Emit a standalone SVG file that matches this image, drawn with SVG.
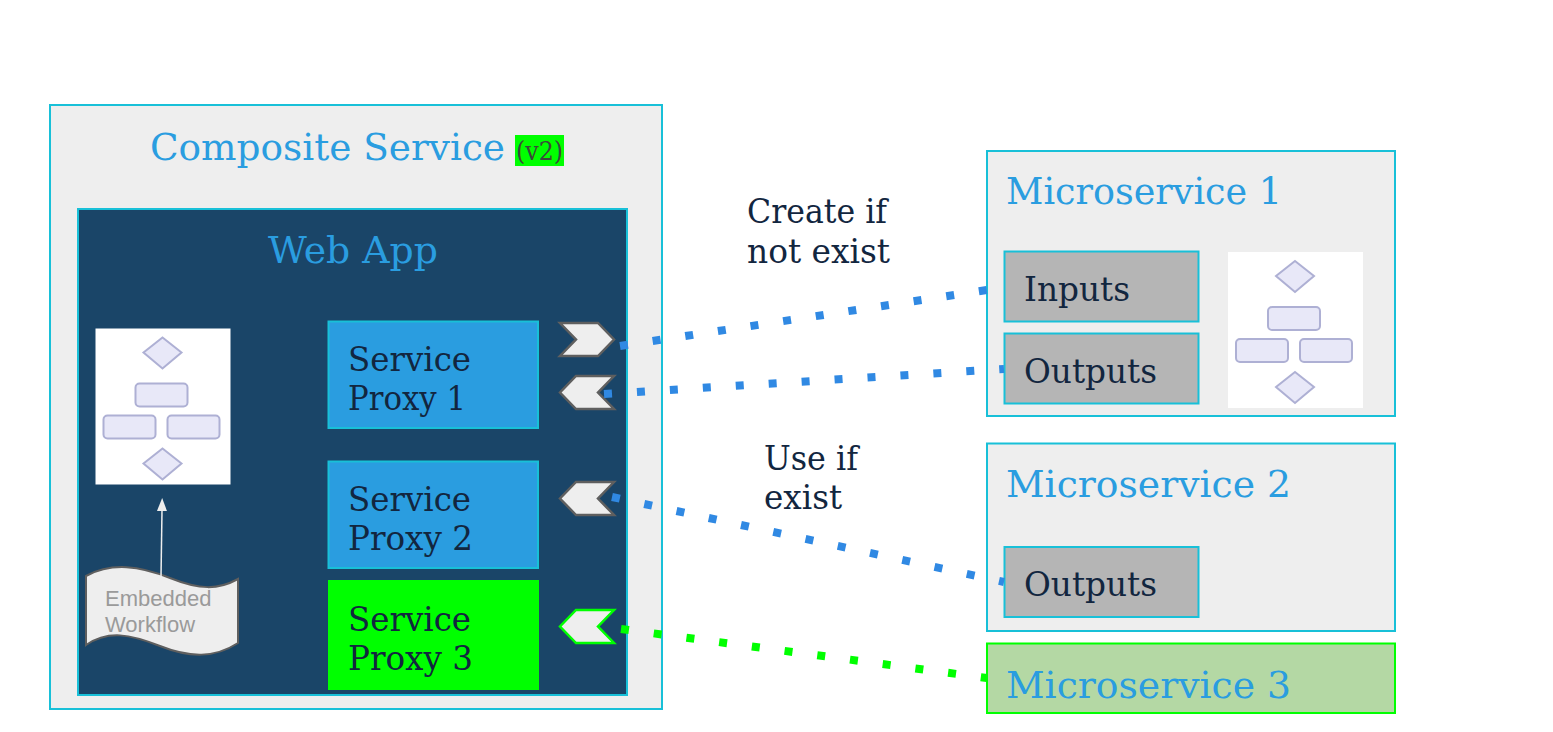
<svg xmlns="http://www.w3.org/2000/svg" width="1553" height="732" viewBox="0 0 1553 732">
<style>
.box{stroke:#18c0d8;stroke-width:2}
.grey{fill:#eeeeee}
.t{font-family:"DejaVu Serif","Liberation Serif",serif;font-weight:400}
.title{fill:#2a9de0;font-size:38px}
.dark{fill:#12263f;font-size:34px}
.tag{fill:#eeeeee;stroke:#5f5f5f;stroke-width:2.500}
.wf{fill:#e8e8f8;stroke:#aeb0d4;stroke-width:2}
.blue{fill:none;stroke:#3089e3;stroke-width:8;stroke-dasharray:8 25}
.green{fill:none;stroke:#00ff00;stroke-width:8;stroke-dasharray:8 25}
</style>
<defs>
<g id="flow">
<rect x="0" y="0" width="135" height="156" fill="#fff"/>
<path class="wf" d="M67 9L86 24L67 40L48 24Z"/>
<rect class="wf" x="40" y="55" width="52" height="23" rx="4"/>
<rect class="wf" x="8" y="87" width="52" height="23" rx="4"/>
<rect class="wf" x="72" y="87" width="52" height="23" rx="4"/>
<path class="wf" d="M67 120L86 135L67 151L48 135Z"/>
</g>
<marker id="arr" markerWidth="13" markerHeight="10" refX="1" refY="5" orient="auto" markerUnits="userSpaceOnUse" viewBox="0 0 13 10"><path d="M0 0L13 5L0 10Z" fill="#eeeeee"/></marker>
</defs>
<rect width="1553" height="732" fill="#fff"/>
<g id="composite-service">
<rect class="box grey" x="50" y="105" width="612" height="604"/>
<text class="t title" x="150" y="160" textLength="355" lengthAdjust="spacingAndGlyphs">Composite Service</text>
<rect x="515" y="135" width="49" height="31" fill="#00ff00"/>
<text class="t" x="516" y="160" font-size="26" fill="#3a4a3a" textLength="47" lengthAdjust="spacingAndGlyphs">(v2)</text>
</g>
<g id="web-app">
<rect class="box" x="78" y="209" width="549" height="486" fill="#1a4568"/>
<text class="t title" x="268" y="263" textLength="170" lengthAdjust="spacingAndGlyphs">Web App</text>
</g>
<g id="embedded-diagram"><use href="#flow" x="95.500" y="328.500"/></g>
<g id="embedded-workflow">
<path d="M86 576C112 562 140 566 170 578C200 590 218 590 238 579V643C215 658 190 658 160 646C130 634 108 630 86 645Z" fill="#eeeeee" stroke="#5f5f5f" stroke-width="2"/>
<text x="105" y="606" font-family="'Liberation Sans',Arial,sans-serif" font-size="22" fill="#9a9a9a">Embedded</text>
<text x="105" y="632" font-family="'Liberation Sans',Arial,sans-serif" font-size="22" fill="#9a9a9a">Workflow</text>
</g>
<g id="service-proxy-1">
<rect class="box" x="328.500" y="321.500" width="209.500" height="106.500" fill="#2a9de0"/>
<text class="t dark" x="348" y="371" textLength="123" lengthAdjust="spacingAndGlyphs">Service</text>
<text class="t dark" x="348" y="410" textLength="118" lengthAdjust="spacingAndGlyphs">Proxy 1</text>
</g>
<g id="service-proxy-2">
<rect class="box" x="328.500" y="461.500" width="209.500" height="106.500" fill="#2a9de0"/>
<text class="t dark" x="348" y="511" textLength="123" lengthAdjust="spacingAndGlyphs">Service</text>
<text class="t dark" x="348" y="550" textLength="125" lengthAdjust="spacingAndGlyphs">Proxy 2</text>
</g>
<g id="service-proxy-3">
<rect x="328" y="580" width="211" height="110" fill="#00ff00"/>
<text class="t dark" x="348" y="631" textLength="123" lengthAdjust="spacingAndGlyphs">Service</text>
<text class="t dark" x="348" y="670" textLength="125" lengthAdjust="spacingAndGlyphs">Proxy 3</text>
</g>
<g id="port-out-1"><path class="tag" d="M560 323H598L614 339.500L598 356H560L576 339.500Z"/></g>
<g id="port-in-1"><path class="tag" d="M614 376H576L560 392.500L576 409H614L598 392.500Z"/></g>
<g id="port-in-2"><path class="tag" d="M614 482H576L560 498.500L576 515H614L598 498.500Z"/></g>
<g id="port-in-3"><path class="tag" style="stroke:#00ff00" d="M614 610H576L560 626.500L576 643H614L598 626.500Z"/></g>
<g id="microservice-1">
<rect class="box grey" x="987" y="151" width="408" height="265"/>
<text class="t title" x="1006" y="204" textLength="276" lengthAdjust="spacingAndGlyphs">Microservice 1</text>
<rect class="box" x="1004.500" y="251.500" width="194" height="70" fill="#b5b5b5"/>
<text class="t dark" x="1024" y="301" textLength="106" lengthAdjust="spacingAndGlyphs">Inputs</text>
<rect class="box" x="1004.500" y="333.500" width="194" height="70" fill="#b5b5b5"/>
<text class="t dark" x="1024" y="383" textLength="133" lengthAdjust="spacingAndGlyphs">Outputs</text>
<use href="#flow" x="1228" y="252"/>
</g>
<g id="microservice-2">
<rect class="box grey" x="987" y="443.500" width="408" height="187.500"/>
<text class="t title" x="1006" y="497" textLength="285" lengthAdjust="spacingAndGlyphs">Microservice 2</text>
<rect class="box" x="1004.500" y="547" width="194" height="70" fill="#b5b5b5"/>
<text class="t dark" x="1024" y="596" textLength="133" lengthAdjust="spacingAndGlyphs">Outputs</text>
</g>
<g id="microservice-3">
<rect x="987" y="643.500" width="408" height="69.500" fill="#b4d8a4" stroke="#00ff00" stroke-width="2"/>
<text class="t title" x="1006" y="698" textLength="285" lengthAdjust="spacingAndGlyphs">Microservice 3</text>
</g>
<g id="labels">
<text class="t dark" x="747" y="223" textLength="140" lengthAdjust="spacingAndGlyphs">Create if</text>
<text class="t dark" x="747" y="263" textLength="143" lengthAdjust="spacingAndGlyphs">not exist</text>
<text class="t dark" x="764" y="470" textLength="94" lengthAdjust="spacingAndGlyphs">Use if</text>
<text class="t dark" x="764" y="509" textLength="78" lengthAdjust="spacingAndGlyphs">exist</text>
</g>
<g id="connectors">
<path d="M161 577L162 510" fill="none" stroke="#eeeeee" stroke-width="1.500" marker-end="url(#arr)"/>
<path class="blue" d="M620 346L987 290"/>
<path class="blue" d="M604 394L1004 369"/>
<path class="blue" d="M612 497L1004 582"/>
<path class="green" d="M621 629L987 678"/>
</g>
</svg>
